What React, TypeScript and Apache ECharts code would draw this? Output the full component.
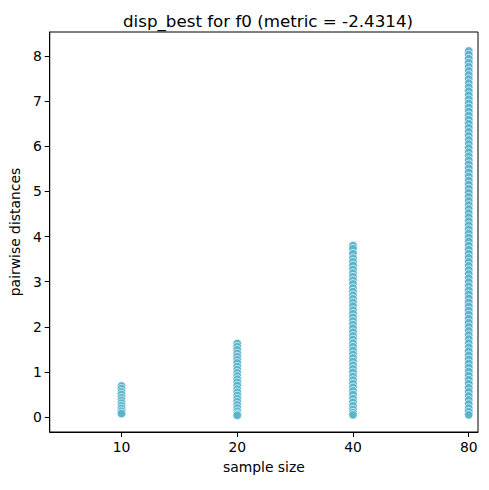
import React, { useEffect, useRef } from "react";
import * as echarts from "echarts";

// sample sizes shown along the x axis (one column of points each)
const sampleSizes = ["10", "20", "40", "80"];

// y tick positions
const yTicks = [0, 1, 2, 3, 4, 5, 6, 7, 8];

// pairwise distances observed for each sample size
const dist10 = [0.69, 0.63, 0.56, 0.5, 0.43, 0.37, 0.31, 0.25, 0.19, 0.13, 0.08];
const dist20 = [
  1.63, 1.56, 1.49, 1.41, 1.34, 1.27, 1.2, 1.12, 1.05, 0.98, 0.91, 0.84, 0.77,
  0.7, 0.62, 0.55, 0.48, 0.41, 0.34, 0.27, 0.2, 0.13, 0.07, 0.04,
];
const dist40 = [
  3.8, 3.73, 3.62, 3.52, 3.44, 3.36, 3.27, 3.19, 3.11, 3.03, 2.95, 2.86, 2.78,
  2.7, 2.62, 2.54, 2.46, 2.37, 2.29, 2.21, 2.13, 2.05, 1.97, 1.88, 1.8, 1.72,
  1.64, 1.56, 1.48, 1.39, 1.31, 1.23, 1.15, 1.07, 0.99, 0.9, 0.82, 0.74, 0.66,
  0.58, 0.5, 0.41, 0.33, 0.25, 0.17, 0.1, 0.05,
];
const dist80 = [
  8.11, 8.03, 7.94, 7.85, 7.76, 7.67, 7.58, 7.49, 7.4, 7.31, 7.22, 7.13, 7.04,
  6.95, 6.86, 6.77, 6.68, 6.59, 6.5, 6.41, 6.32, 6.23, 6.14, 6.05, 5.96, 5.87,
  5.78, 5.69, 5.6, 5.51, 5.42, 5.33, 5.24, 5.15, 5.06, 4.97, 4.88, 4.79, 4.7,
  4.61, 4.52, 4.43, 4.34, 4.25, 4.16, 4.07, 3.98, 3.89, 3.8, 3.71, 3.62, 3.53,
  3.44, 3.35, 3.26, 3.17, 3.08, 2.99, 2.9, 2.81, 2.72, 2.63, 2.54, 2.45, 2.36,
  2.27, 2.18, 2.09, 2.0, 1.91, 1.82, 1.73, 1.64, 1.55, 1.46, 1.37, 1.28, 1.19,
  1.1, 1.01, 0.92, 0.83, 0.74, 0.65, 0.56, 0.47, 0.38, 0.29, 0.2, 0.12, 0.05,
];

const groups = [dist10, dist20, dist40, dist80];

const FONT = "DejaVu Sans";

export default function App() {
  const ref = useRef<HTMLDivElement>(null);

  useEffect(() => {
    if (!ref.current) return;
    const chart = echarts.init(ref.current, null, { renderer: "svg" });

    const points: number[][] = [];
    groups.forEach((vals, i) => vals.forEach((v) => points.push([i, v])));

    chart.setOption({
      animation: false,
      title: {
        text: "disp_best for f0 (metric = -2.4314)",
        left: 263,
        top: 7,
        textAlign: "center",
        textStyle: {
          fontFamily: FONT,
          fontSize: 16.7,
          fontWeight: "normal",
          color: "#000",
        },
      },
      grid: {
        left: 49,
        right: 11,
        top: 32,
        bottom: 58,
        show: true,
        borderColor: "#000",
        borderWidth: 1,
        containLabel: false,
      },
      xAxis: {
        type: "value",
        min: -0.62,
        max: 3.08,
        name: "sample size",
        nameLocation: "middle",
        nameGap: 28,
        nameTextStyle: { fontFamily: FONT, fontSize: 13.9, color: "#000" },
        splitLine: { show: false },
        axisLine: {
          show: true,
          onZero: false,
          lineStyle: { color: "#000", width: 1 },
        },
        axisTick: {
          show: true,
          length: 5,
          lineStyle: { color: "#000" },
          customValues: [0, 1, 2, 3],
        },
        axisLabel: {
          customValues: [0, 1, 2, 3],
          margin: 8,
          fontFamily: FONT,
          fontSize: 13.9,
          color: "#000",
          formatter: (v: number) => sampleSizes[Math.round(v)] ?? "",
        },
      },
      yAxis: {
        type: "value",
        min: -0.33,
        max: 8.53,
        name: "pairwise distances",
        nameLocation: "middle",
        nameGap: 24,
        nameTextStyle: { fontFamily: FONT, fontSize: 13.9, color: "#000" },
        splitLine: { show: false },
        axisLine: {
          show: true,
          onZero: false,
          lineStyle: { color: "#000", width: 1 },
        },
        axisTick: {
          show: true,
          length: 5,
          lineStyle: { color: "#000" },
          customValues: yTicks,
        },
        axisLabel: {
          customValues: yTicks,
          margin: 8,
          fontFamily: FONT,
          fontSize: 13.9,
          color: "#000",
          formatter: (v: number) => String(Math.round(v)),
        },
      },
      series: [
        {
          type: "scatter",
          data: points,
          symbol: "circle",
          symbolSize: 8.5,
          itemStyle: {
            color: "#5ab4cc",
            borderColor: "#ffffff",
            borderWidth: 0.7,
            opacity: 1,
          },
        },
      ],
    });

    return () => chart.dispose();
  }, []);

  return (
    <div
      ref={ref}
      style={{ position: "absolute", left: 0, top: 0, width: 489, height: 490 }}
    />
  );
}
